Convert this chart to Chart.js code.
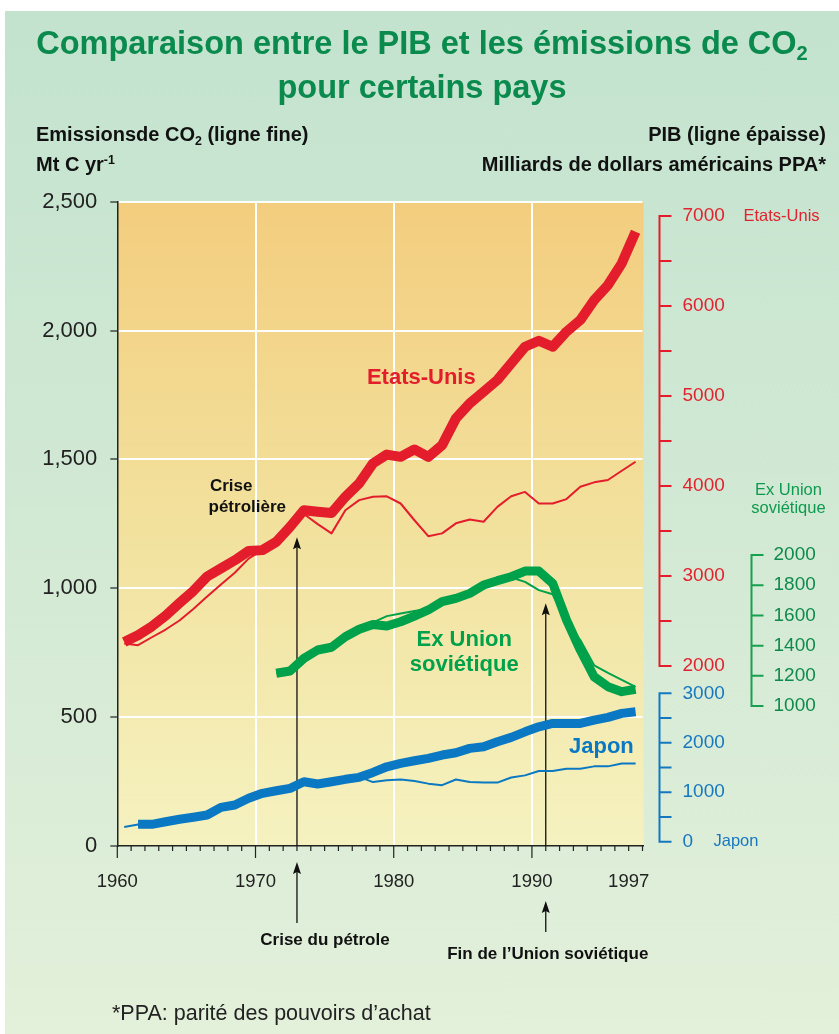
<!DOCTYPE html>
<html lang="fr">
<head>
<meta charset="utf-8">
<title>Comparaison entre le PIB et les émissions de CO2</title>
<script src="https://cdn.jsdelivr.net/npm/chart.js@4.4.1/dist/chart.umd.min.js"></script>
<style>
  html, body { margin: 0; padding: 0; background: #fff; }
  #page { position: relative; width: 839px; height: 1034px; overflow: hidden;
          font-family: 'Liberation Sans', Arial, Helvetica, sans-serif; }
  #panel { position: absolute; left: 5px; top: 11px; right: 0; bottom: 0;
           background: linear-gradient(to bottom, #c3e3cf 0%, #d2e9d4 50%, #e3f0da 100%); }
  #chart { position: absolute; left: 0; top: 0; }
  .t { position: absolute; white-space: nowrap; line-height: 1; }
  .title { left: 5px; right: 0; text-align: center; color: #0b8a4e; font-weight: bold; font-size: 32.5px; }
  .head { font-weight: bold; font-size: 20px; color: #111; }
  .foot { left: 112px; top: 1003px; font-size: 21.5px; color: #222; }
  sub { font-size: 0.62em; vertical-align: baseline; position: relative; top: 0.3em; line-height: 0; }
  sup { font-size: 0.62em; vertical-align: baseline; position: relative; top: -0.55em; line-height: 0; }
</style>
</head>
<body>
<div id="page">
  <div id="panel"></div>
  <canvas id="chart" width="839" height="1034"></canvas>
  <div class="t title" style="top:27px">Comparaison entre le PIB et les émissions de CO<sub>2</sub></div>
  <div class="t title" style="top:71px">pour certains pays</div>
  <div class="t head" style="left:36px; top:124px">Emissionsde CO<sub>2</sub> (ligne fine)</div>
  <div class="t head" style="left:36px; top:154px">Mt C yr<sup>-1</sup></div>
  <div class="t head" style="right:13px; top:124px">PIB (ligne épaisse)</div>
  <div class="t head" style="right:13px; top:154px">Milliards de dollars américains PPA*</div>
  <div class="t foot">*PPA: parité des pouvoirs d’achat</div>
</div>
<script>
const FONT = "'Liberation Sans', Arial, Helvetica, sans-serif";

// annual values, plotted at mid-year
const years = [1960, 1961, 1962, 1963, 1964, 1965, 1966, 1967, 1968, 1969,
               1970, 1971, 1972, 1973, 1974, 1975, 1976, 1977, 1978, 1979,
               1980, 1981, 1982, 1983, 1984, 1985, 1986, 1987, 1988, 1989,
               1990, 1991, 1992, 1993, 1994, 1995, 1996, 1997];

// PIB, milliards de dollars PPA (ligne épaisse)
const usGdp = [2268, 2343, 2440, 2560, 2700, 2835, 2995, 3085, 3175, 3278,
               3288, 3380, 3547, 3732, 3715, 3700, 3880, 4030, 4252, 4350,
               4325, 4407, 4325, 4455, 4752, 4919, 5048, 5178, 5364, 5548,
               5615, 5548, 5715, 5845, 6067, 6234, 6475, 6827];
const suGdp = [null, null, null, null, null, null, null, null, null, null,
               null, 1217, 1232, 1316, 1371, 1389, 1459, 1508, 1540, 1530,
               1558, 1596, 1636, 1691, 1713, 1746, 1801, 1830, 1856, 1894,
               1894, 1813, 1570, 1371, 1194, 1128, 1095, 1111];
const jpGdp = [null, 351, 351, 404, 453, 493, 539, 695, 741, 877,
               978, 1030, 1079, 1212, 1166, 1212, 1261, 1301, 1400, 1515,
               1584, 1636, 1685, 1752, 1798, 1887, 1919, 2020, 2109, 2222,
               2323, 2392, 2392, 2392, 2459, 2513, 2594, 2626];

// Emissions de CO2, Mt C par an (ligne fine)
const usCo2 = [786, 779, 810, 840, 875, 920, 968, 1015, 1060, 1115,
               1149, 1180, 1235, 1288, 1249, 1213, 1303, 1342, 1355, 1357,
               1329, 1264, 1202, 1213, 1252, 1267, 1258, 1316, 1357, 1374,
               1329, 1329, 1346, 1394, 1411, 1420, 1456, 1491];
const suCo2 = [null, null, null, null, null, null, null, null, null, null,
               null, 670, 678, 729, 760, 779, 826, 850, 868, 892,
               902, 912, 921, 943, 956, 977, 1005, 1025, 1042, 1025,
               993, 977, 870, 799, 701, 672, 645, 617];
const jpCo2 = [74, 83, 83, 93, 102, 110, 119, 149, 158, 184,
               203, 213, 223, 248, 240, 248, 258, 268, 248, 255,
               258, 252, 242, 236, 258, 248, 246, 246, 266, 274,
               291, 291, 300, 300, 309, 309, 320, 320];

// axes
const xLabelYears = [1960, 1970, 1980, 1990, 1997];
const xGridYears = [1970, 1980, 1990];
const xMinorYears = years.concat([1998]);
const co2Ticks = [0, 500, 1000, 1500, 2000, 2500];
const usAxisTicks = [2000, 2500, 3000, 3500, 4000, 4500, 5000, 5500, 6000, 6500, 7000];
const usAxisLabels = [2000, 3000, 4000, 5000, 6000, 7000];
const suAxisTicks = [1000, 1200, 1400, 1600, 1800, 2000];
const suAxisLabels = [1000, 1200, 1400, 1600, 1800, 2000];
const jpAxisTicks = [0, 500, 1000, 1500, 2000, 2500, 3000];
const jpAxisLabels = [0, 1000, 2000, 3000];

// evenements
const oilCrisisYear = 1973;
const ussrEndYear = 1991;

const RED = '#e31d2b', GREEN = '#00a14b', BLUE = '#0a78c2';

const pts = arr => years.map((y, i) => ({ x: y + 0.5, y: arr[i] })).filter(p => p.y !== null);

function arrow(ctx, x, yTail, yTip) {
  ctx.beginPath();
  ctx.moveTo(x, yTail);
  ctx.lineTo(x, yTip + 8);
  ctx.stroke();
  ctx.beginPath();
  ctx.moveTo(x, yTip);
  ctx.lineTo(x - 4, yTip + 12);
  ctx.lineTo(x, yTip + 10);
  ctx.lineTo(x + 4, yTip + 12);
  ctx.closePath();
  ctx.fill();
}

function bracket(ctx, scale, x, ticks, labels, color, textColor, labelGap) {
  const top = scale.getPixelForValue(ticks[ticks.length - 1]);
  const bottom = scale.getPixelForValue(ticks[0]);
  ctx.save();
  ctx.strokeStyle = color;
  ctx.lineWidth = 2;
  ctx.beginPath();
  ctx.moveTo(x, top);
  ctx.lineTo(x, bottom);
  ticks.forEach(v => {
    const y = scale.getPixelForValue(v);
    ctx.moveTo(x - 1, y);
    ctx.lineTo(x + 12, y);
  });
  ctx.stroke();
  ctx.fillStyle = textColor;
  ctx.font = '19px ' + FONT;
  ctx.textBaseline = 'middle';
  ctx.textAlign = 'left';
  labels.forEach(v => ctx.fillText(String(v), x + labelGap, scale.getPixelForValue(v)));
  ctx.restore();
}

const decor = {
  id: 'decor',
  beforeDraw(chart) {
    const { ctx, chartArea: a } = chart;
    const g = ctx.createLinearGradient(0, a.top, 0, a.bottom);
    g.addColorStop(0, '#f3cd7e');
    g.addColorStop(0.5, '#f2e19d');
    g.addColorStop(1, '#f5f2c0');
    ctx.save();
    ctx.fillStyle = g;
    ctx.fillRect(a.left, a.top, a.right - a.left + 1, a.bottom - a.top);
    ctx.restore();
  },
  beforeDatasetsDraw(chart) {
    const { ctx, chartArea: a, scales } = chart;
    ctx.save();
    ctx.strokeStyle = '#111';
    ctx.fillStyle = '#111';
    ctx.lineWidth = 1.3;
    arrow(ctx, scales.x.getPixelForValue(oilCrisisYear), a.bottom, scales.y.getPixelForValue(1198));
    arrow(ctx, scales.x.getPixelForValue(ussrEndYear), a.bottom, scales.y.getPixelForValue(942));
    ctx.restore();
  },
  afterDraw(chart) {
    const { ctx, chartArea: a, scales } = chart;
    const x = scales.x, y = scales.y;

    // petites graduations annuelles
    ctx.save();
    ctx.strokeStyle = '#222';
    ctx.lineWidth = 1.2;
    ctx.beginPath();
    xMinorYears.forEach(yr => {
      const px = x.getPixelForValue(yr);
      ctx.moveTo(px, a.bottom);
      ctx.lineTo(px, a.bottom + (yr % 10 === 0 ? 12 : 5));
    });
    ctx.stroke();

    // fleches sous l'axe
    ctx.strokeStyle = '#111';
    ctx.fillStyle = '#111';
    ctx.lineWidth = 1.3;
    arrow(ctx, x.getPixelForValue(oilCrisisYear), a.bottom + 77, a.bottom + 16);
    arrow(ctx, x.getPixelForValue(ussrEndYear), a.bottom + 86, a.bottom + 55);
    ctx.font = 'bold 17px ' + FONT;
    ctx.textAlign = 'center';
    ctx.textBaseline = 'middle';
    ctx.fillText('Crise du pétrole', x.getPixelForValue(oilCrisisYear) + 28, a.bottom + 94);
    ctx.fillText('Fin de l’Union soviétique', x.getPixelForValue(ussrEndYear) + 2, a.bottom + 108);

    // textes dans le graphique
    ctx.textAlign = 'left';
    ctx.fillText('Crise', x.getPixelForValue(1966.7), y.getPixelForValue(1394));
    ctx.fillText('pétrolière', x.getPixelForValue(1966.6), y.getPixelForValue(1316));
    ctx.font = 'bold 22px ' + FONT;
    ctx.fillStyle = RED;
    ctx.fillText('Etats-Unis', x.getPixelForValue(1978.06), y.getPixelForValue(1816));
    ctx.fillStyle = GREEN;
    ctx.textAlign = 'center';
    ctx.fillText('Ex Union', x.getPixelForValue(1985.1), y.getPixelForValue(798));
    ctx.fillText('soviétique', x.getPixelForValue(1985.1), y.getPixelForValue(701));
    ctx.fillStyle = BLUE;
    ctx.textAlign = 'left';
    ctx.fillText('Japon', x.getPixelForValue(1992.68), y.getPixelForValue(383));
    ctx.restore();

    // axes du PIB a droite
    const xa = a.right + 17, xb = a.right + 109;
    bracket(ctx, scales.yUS, xa, usAxisTicks, usAxisLabels, RED, '#e2222e', 23);
    bracket(ctx, scales.ySU, xb, suAxisTicks, suAxisLabels, '#16a04f', '#0f8a4c', 22);
    bracket(ctx, scales.yJP, xa, jpAxisTicks, jpAxisLabels, '#1478c0', '#1778c1', 23);

    ctx.save();
    ctx.font = '16.5px ' + FONT;
    ctx.textBaseline = 'middle';
    ctx.fillStyle = '#e2222e';
    ctx.textAlign = 'left';
    ctx.fillText('Etats-Unis', xa + 84, scales.yUS.getPixelForValue(7000));
    ctx.fillStyle = '#0f9a4f';
    ctx.textAlign = 'center';
    ctx.fillText('Ex Union', xb + 37, scales.ySU.getPixelForValue(2000) - 65);
    ctx.fillText('soviétique', xb + 37, scales.ySU.getPixelForValue(2000) - 47);
    ctx.fillStyle = '#1778c1';
    ctx.textAlign = 'left';
    ctx.fillText('Japon', xa + 54, scales.yJP.getPixelForValue(0));
    ctx.restore();
  }
};

const thin = (label, arr, color) => ({
  label, data: pts(arr), yAxisID: 'y', borderColor: color, borderWidth: 2, pointRadius: 0
});
const thick = (label, arr, color, axis, w) => ({
  label, data: pts(arr), yAxisID: axis, borderColor: color, borderWidth: w, pointRadius: 0
});

new Chart(document.getElementById('chart'), {
  type: 'line',
  data: {
    datasets: [
      thin('Etats-Unis CO2', usCo2, RED),
      thin('Ex Union soviétique CO2', suCo2, GREEN),
      thin('Japon CO2', jpCo2, BLUE),
      thick('Etats-Unis PIB', usGdp, RED, 'yUS', 10),
      thick('Ex Union soviétique PIB', suGdp, GREEN, 'ySU', 9),
      thick('Japon PIB', jpGdp, BLUE, 'yJP', 9)
    ]
  },
  options: {
    responsive: false,
    animation: false,
    devicePixelRatio: 1,
    layout: { padding: { top: 201.7, right: 196.5, bottom: 0, left: 0 } },
    plugins: { legend: { display: false }, tooltip: { enabled: false } },
    elements: { line: { tension: 0, borderCapStyle: 'butt', borderJoinStyle: 'round' } },
    scales: {
      x: {
        type: 'linear', min: 1960, max: 1998,
        afterBuildTicks: s => { s.ticks = xLabelYears.map(v => ({ value: v })); },
        afterFit: s => { s.height = 188; },
        ticks: { autoSkip: false, maxRotation: 0, padding: 25, color: '#222',
                 font: { family: FONT, size: 18.5 }, callback: v => String(v) },
        grid: { drawTicks: false, lineWidth: 2,
                color: c => (c.tick && xGridYears.includes(c.tick.value)) ? '#ffffff' : 'rgba(0,0,0,0)' },
        border: { color: '#222', width: 1.5 }
      },
      y: {
        min: 0, max: 2500,
        afterBuildTicks: s => { s.ticks = co2Ticks.map(v => ({ value: v })); },
        afterFit: s => { s.width = 117.3; },
        ticks: { padding: 13, color: '#222', font: { family: FONT, size: 22 },
                 callback: v => v.toLocaleString('en-US') },
        grid: { lineWidth: 2, tickLength: 7, tickWidth: 1.2, tickColor: '#222',
                color: c => (c.tick && c.tick.value > 0) ? '#ffffff' : 'rgba(0,0,0,0)' },
        border: { color: '#222', width: 1.5 }
      },
      yUS: { position: 'right', display: false, min: 0, max: 7160 },
      ySU: { position: 'right', display: false, min: 73, max: 4340 },
      yJP: { position: 'right', display: false, min: -87, max: 12940 }
    }
  },
  plugins: [decor]
});
</script>
</body>
</html>
